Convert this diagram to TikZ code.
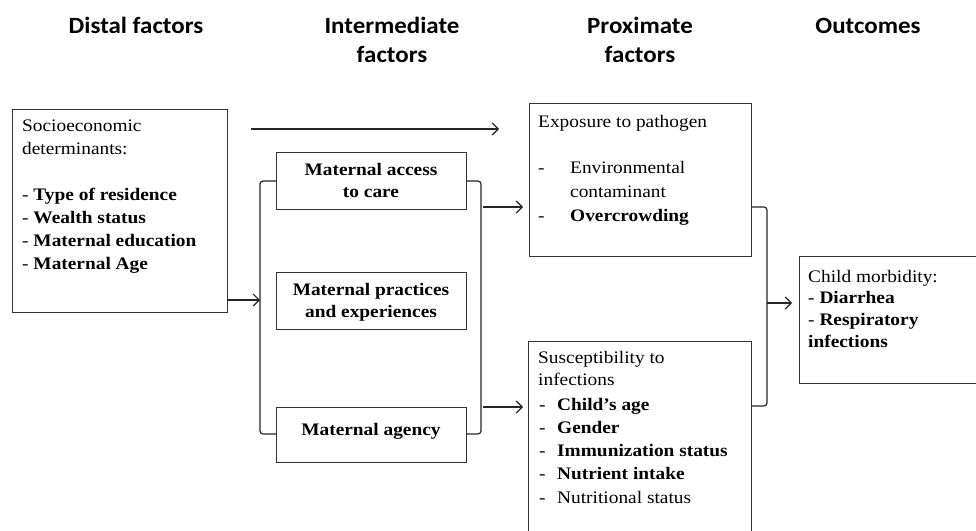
\documentclass[tikz,border=0pt]{standalone}
\usepackage{fontspec}
\setmainfont{Liberation Serif}[FakeStretch=1.1]
\newfontfamily\hdrfont{Carlito}[FakeStretch=1.07]
\usetikzlibrary{arrows.meta}
\newcommand{\tleft}[1]{\begin{tabular}[t]{@{}l@{}}#1\end{tabular}}
\newcommand{\tcent}[1]{\begin{tabular}[t]{@{}c@{}}#1\end{tabular}}
\begin{document}
\begin{tikzpicture}[x=1pt,y=-1pt,
  box/.style={draw=black!80, line width=1.2pt, inner sep=0pt, anchor=north west},
  txt/.style={anchor=base west, inner sep=0pt, font=\fontsize{17.6}{23}\selectfont},
  ctxt/.style={anchor=base, inner sep=0pt, font=\fontsize{17.6}{22.5}\selectfont\bfseries},
  hdr/.style={anchor=base, inner sep=0pt, font=\hdrfont\bfseries\fontsize{23.3}{29}\selectfont},
  conn/.style={line width=1.2pt, draw=black!85},
  arr/.style={conn, -{Straight Barb[length=6pt,width=12pt]}},
  brk/.style={conn, rounded corners=3pt}]
\useasboundingbox (0,0) rectangle (976,530);
\fill[white] (0,0) rectangle (976,530);

% headers
\node[hdr] (h1) at (136,33) {Distal factors};
\node[hdr] (h2) at (392,33) {\tcent{Intermediate\\factors}};
\node[hdr] (h3) at (640,33) {\tcent{Proximate\\factors}};
\node[hdr] (h4) at (868,33) {Outcomes};

% distal
\node[box, minimum width=215, minimum height=203] (soc) at (12,109) {};
\node[txt] (soct) at (22,131) {\tleft{Socioeconomic\\determinants:\\[23pt]- \textbf{Type of residence}\\- \textbf{Wealth status}\\- \textbf{Maternal education}\\- \textbf{Maternal Age}}};

% intermediate
\node[box, minimum width=190, minimum height=57] (acc) at (276,152) {};
\node[ctxt] (acct) at (371,175) {\tcent{Maternal access\\to care}};
\node[box, minimum width=190, minimum height=57] (pra) at (276,272) {};
\node[ctxt] (prat) at (371,295) {\tcent{Maternal practices\\and experiences}};
\node[box, minimum width=190, minimum height=55] (agy) at (276,407) {};
\node[ctxt] (agyt) at (371,435) {Maternal agency};

% proximate
\node[box, minimum width=222, minimum height=153] (exp) at (529,103) {};
\node[txt] (expt) at (538,127) {Exposure to pathogen};
\node[txt, font=\fontsize{17.6}{24}\selectfont] (expd) at (538,173) {\tleft{-\\\\-}};
\node[txt, font=\fontsize{17.6}{24}\selectfont] (expl) at (570,173) {\tleft{Environmental\\contaminant\\\textbf{Overcrowding}}};

\node[box, minimum width=223, minimum height=200] (sus) at (528,341) {};
\node[txt, font=\fontsize{17.6}{22}\selectfont] (sust) at (538,363) {\tleft{Susceptibility to\\infections}};
\node[txt, font=\fontsize{17.6}{23.3}\selectfont] (susl) at (539,410) {\tleft{\makebox[18pt][l]{-}\textbf{Child’s age}\\\makebox[18pt][l]{-}\textbf{Gender}\\\makebox[18pt][l]{-}\textbf{Immunization status}\\\makebox[18pt][l]{-}\textbf{Nutrient intake}\\\makebox[18pt][l]{-}Nutritional status}};

% outcome
\node[box, minimum width=200, minimum height=127] (out) at (799,256) {};
\node[txt, font=\fontsize{17.6}{21.7}\selectfont] (outt) at (808,282) {\tleft{Child morbidity:\\- \textbf{Diarrhea}\\- \textbf{Respiratory}\\\textbf{infections}}};

% connectors
\coordinate (lbT) at (260,181);
\coordinate (lbB) at (260,434);
\coordinate (rbT) at (481,181);
\coordinate (rbB) at (481,434);
\draw[brk] (acc.west |- lbT) -- (lbT) -- (lbB) -- (agy.west |- lbB);
\draw[brk] (acc.east |- rbT) -- (rbT) -- (rbB) -- (agy.east |- rbB);
\coordinate (sa) at (227,300);
\draw[arr] (sa) -- (lbT |- sa);

\coordinate (ta1) at (251,129);
\coordinate (ta2) at (499,129);
\draw[arr] (ta1) -- (ta2);

\coordinate (ra1) at (483,207);
\coordinate (ra2) at (483,407);
\draw[arr] (ra1) -- ([xshift=-6pt]exp.west |- ra1);
\draw[arr] (ra2) -- ([xshift=-5pt]sus.west |- ra2);

\coordinate (pbT) at (767,207);
\coordinate (pbB) at (767,406);
\draw[brk] (exp.east |- pbT) -- (pbT) -- (pbB) -- (sus.east |- pbB);
\coordinate (pm) at (767,303);
\draw[arr] (pm) -- ([xshift=-7pt]out.west |- pm);
\end{tikzpicture}
\end{document}
